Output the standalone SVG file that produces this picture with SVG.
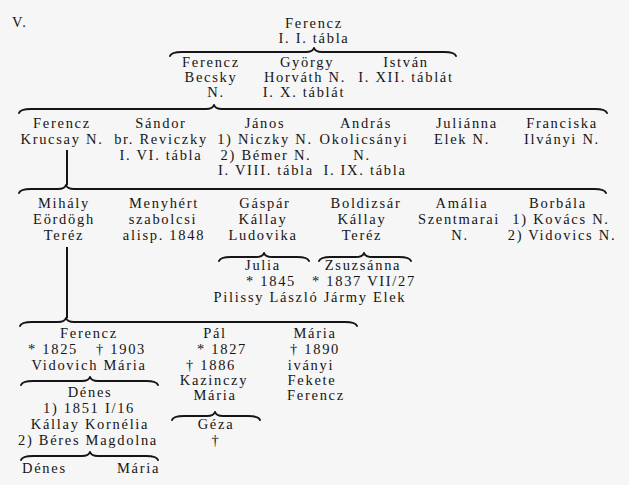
<svg xmlns="http://www.w3.org/2000/svg" width="629" height="485" viewBox="0 0 629 485">
<style>
text{font-family:"Liberation Serif","DejaVu Serif",serif;font-size:14.5px;letter-spacing:1.7px;fill:#151515;text-anchor:middle}
.l{text-anchor:start}
.b{fill:none;stroke:#151515;stroke-width:2;stroke-linecap:round;stroke-linejoin:round}
.v{stroke:#151515;stroke-width:2}
</style>
<rect width="629" height="485" fill="#f6f6f6"/>
<text class="l" x="12" y="27">V.</text>
<g id="n-ferencz-top"><text x="314" y="28">Ferencz</text><text x="314" y="43">I. I. tábla</text></g>
<g id="n-ferencz-becsky"><text x="211" y="67">Ferencz</text><text x="211" y="82">Becsky</text><text x="216" y="97">N.</text></g>
<g id="n-gyorgy"><text x="307" y="67">György</text><text x="305" y="82">Horváth N.</text><text x="304" y="97">I. X. táblát</text></g>
<g id="n-istvan"><text x="406" y="67">István</text><text x="406" y="82">I. XII. táblát</text></g>
<g id="n-ferencz-krucsay"><text x="62" y="128">Ferencz</text><text x="62" y="144">Krucsay N.</text></g>
<g id="n-sandor"><text x="161" y="128">Sándor</text><text x="161" y="144">br. Reviczky</text><text x="161" y="160">I. VI. tábla</text></g>
<g id="n-janos"><text x="265" y="128">János</text><text x="265" y="144">1) Niczky N.</text><text x="266" y="160">2) Bémer N.</text><text x="266" y="175">I. VIII. tábla</text></g>
<g id="n-andras"><text x="366" y="128">András</text><text x="364" y="144">Okolicsányi</text><text x="362" y="160">N.</text><text x="365" y="175">I. IX. tábla</text></g>
<g id="n-julianna"><text x="467" y="128">Juliánna</text><text x="462" y="144">Elek N.</text></g>
<g id="n-franciska"><text x="562" y="128">Franciska</text><text x="562" y="144">Ilványi N.</text></g>
<g id="n-mihaly"><text x="64" y="208">Mihály</text><text x="64" y="224">Eördögh</text><text x="64" y="240">Teréz</text></g>
<g id="n-menyhert"><text x="164" y="208">Menyhért</text><text x="163" y="224">szabolcsi</text><text x="164" y="240">alisp. 1848</text></g>
<g id="n-gaspar"><text x="265" y="208">Gáspár</text><text x="263" y="224">Kállay</text><text x="263" y="240">Ludovika</text></g>
<g id="n-boldizsar"><text x="366" y="208">Boldizsár</text><text x="362" y="224">Kállay</text><text x="362" y="240">Teréz</text></g>
<g id="n-amalia"><text x="462" y="208">Amália</text><text x="459" y="224">Szentmarai</text><text x="460" y="240">N.</text></g>
<g id="n-borbala"><text x="558" y="208">Borbála</text><text x="561" y="224">1) Kovács N.</text><text x="562" y="240">2) Vidovics N.</text></g>
<g id="n-julia"><text x="263" y="270">Julia</text><text x="271" y="286">* 1845</text><text x="266" y="302">Pilissy László</text></g>
<g id="n-zsuzsanna"><text x="363" y="270">Zsuzsánna</text><text x="364" y="286">* 1837 VII/27</text><text x="365" y="302">Jármy Elek</text></g>
<g id="n-ferencz-1825"><text x="89" y="338">Ferencz</text><text x="53" y="354">* 1825</text><text x="121" y="354">† 1903</text><text x="89" y="370">Vidovich Mária</text></g>
<g id="n-pal"><text x="215" y="338">Pál</text><text x="222" y="354">* 1827</text><text x="211" y="370">† 1886</text><text x="214" y="385">Kazinczy</text><text x="215" y="400">Mária</text></g>
<g id="n-maria-1890"><text x="315" y="338">Mária</text><text x="315" y="354">† 1890</text><text x="311" y="370">iványi</text><text x="312" y="385">Fekete</text><text x="316" y="400">Ferencz</text></g>
<g id="n-denes"><text x="90" y="397">Dénes</text><text x="89" y="413">1) 1851 I/16</text><text x="90" y="429">Kállay Kornélia</text><text x="88" y="445">2) Béres Magdolna</text></g>
<g id="n-geza"><text x="216" y="429">Géza</text><text x="216" y="445">†</text></g>
<g id="n-denes-jr"><text class="l" x="22" y="473">Dénes</text></g>
<g id="n-maria-jr"><text class="l" x="117" y="473">Mária</text></g>
<g id="connectors">
<path class="b" d="M170,56 C171,53 174,52 182,52 L306,52 C311,52 313,51 314,48 C315,51 317,52 322,52 L444,52 C452,52 455,53 456,56"/>
<path class="b" d="M19,113 C20,110 23,109 31,109 L206,109 C211,109 213,108 214,105 C215,108 217,109 222,109 L595,109 C603,109 606,110 607,113"/>
<path class="b" d="M19,193 C20,190 23,189 31,189 L58,189 C63,189 65,188 66,185 C67,188 69,189 74,189 L594,189 C602,189 605,190 606,193"/>
<path class="b" d="M219,261 C220,258 223,257 231,257 L256,257 C261,257 263,256 264,253 C265,256 267,257 272,257 L297,257 C305,257 308,258 309,261"/>
<path class="b" d="M319,261 C320,258 323,257 331,257 L356,257 C361,257 363,256 364,253 C365,256 367,257 372,257 L399,257 C407,257 410,258 411,261"/>
<path class="b" d="M20,326 C21,323 24,322 32,322 L58,322 C63,322 65,321 66,318 C67,321 69,322 74,322 L345,322 C353,322 356,323 357,326"/>
<path class="b" d="M21,385 C22,382 25,381 33,381 L82,381 C87,381 89,380 90,377 C91,380 93,381 98,381 L146,381 C154,381 157,382 158,385"/>
<path class="b" d="M172,420 C173,417 176,416 184,416 L207,416 C212,416 214,415 215,412 C216,415 218,416 223,416 L248,416 C256,416 259,417 260,420"/>
<path class="b" d="M21,460 C22,457 25,456 33,456 L82,456 C87,456 89,455 90,452 C91,455 93,456 98,456 L146,456 C154,456 157,457 158,460"/>
<line class="v" x1="67" y1="150" x2="67" y2="185"/>
<line class="v" x1="67" y1="247" x2="67" y2="318"/>
</g>
</svg>
